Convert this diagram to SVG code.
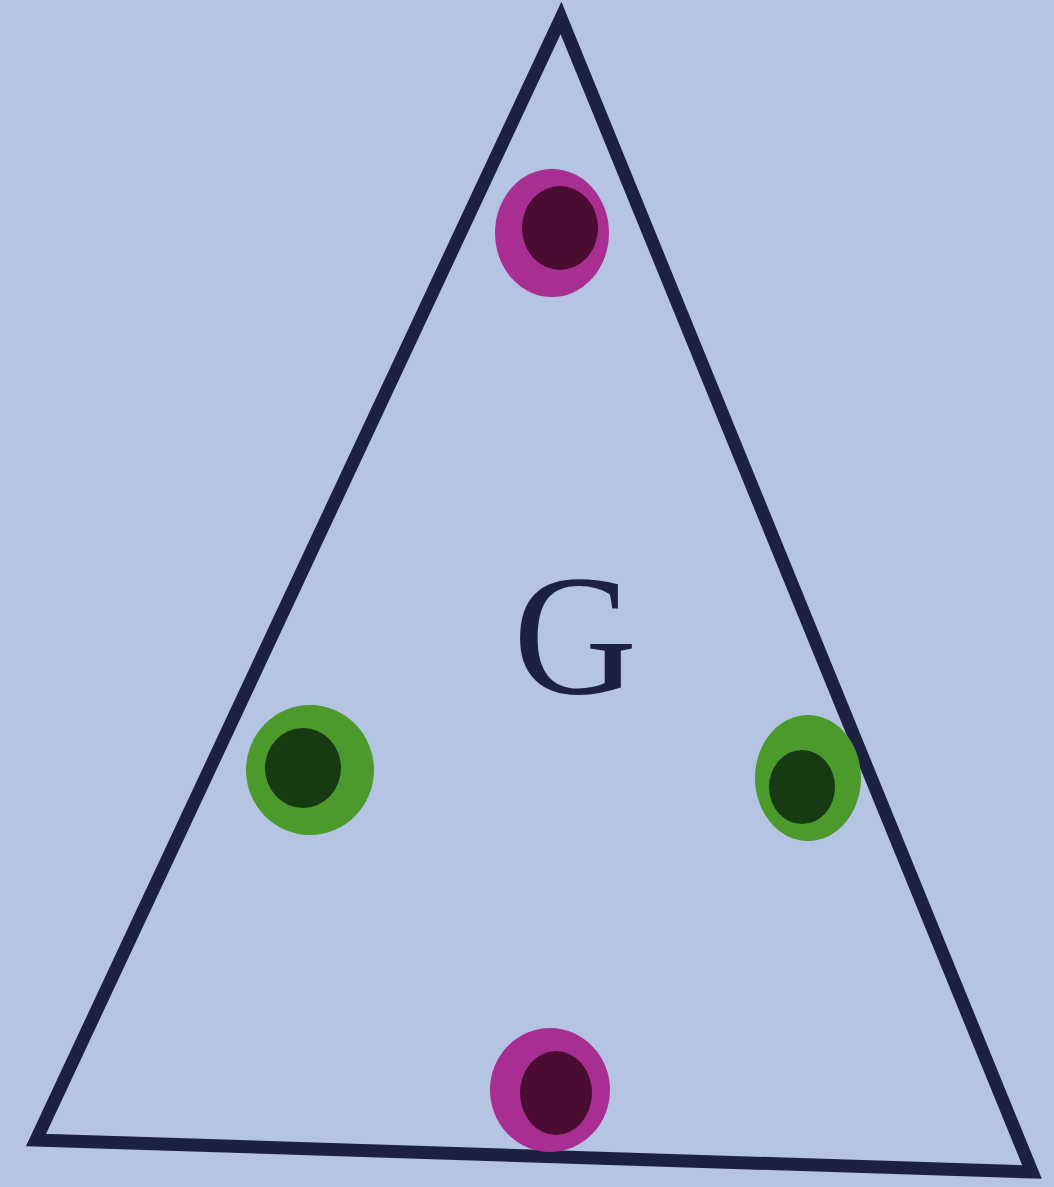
<svg xmlns="http://www.w3.org/2000/svg" width="1054" height="1187" viewBox="0 0 1054 1187">
<style>
.edge{fill:none;stroke:#1d2140;stroke-width:13;stroke-linejoin:miter}
.mag{fill:#a82e92}
.magin{fill:#4a0c30}
.grn{fill:#4c9a2c}
.grnin{fill:#173a12}
.lbl{font-family:"Liberation Serif",serif;font-size:172px;fill:#1d2140}
</style>
<rect width="1054" height="1187" fill="#b6c4e4"/>
<g id="triangle">
<polygon class="edge" points="561,18 1032,1172 36,1140"/>
</g>
<g id="dot-top">
<ellipse class="mag" cx="552" cy="233" rx="57" ry="64"/>
<ellipse class="magin" cx="560" cy="228" rx="38" ry="42"/>
</g>
<g id="dot-left">
<ellipse class="grn" cx="310" cy="770" rx="64" ry="65"/>
<ellipse class="grnin" cx="303" cy="768" rx="38" ry="40"/>
</g>
<g id="dot-right">
<ellipse class="grn" cx="808" cy="778" rx="53" ry="63"/>
<ellipse class="grnin" cx="802" cy="787" rx="33" ry="37"/>
</g>
<g id="dot-bottom">
<ellipse class="mag" cx="550" cy="1090" rx="60" ry="62"/>
<ellipse class="magin" cx="556" cy="1093" rx="36" ry="42"/>
</g>
<g id="label">
<text class="lbl" x="575" y="693" text-anchor="middle">G</text>
</g>
<g id="connectors"></g>
</svg>
